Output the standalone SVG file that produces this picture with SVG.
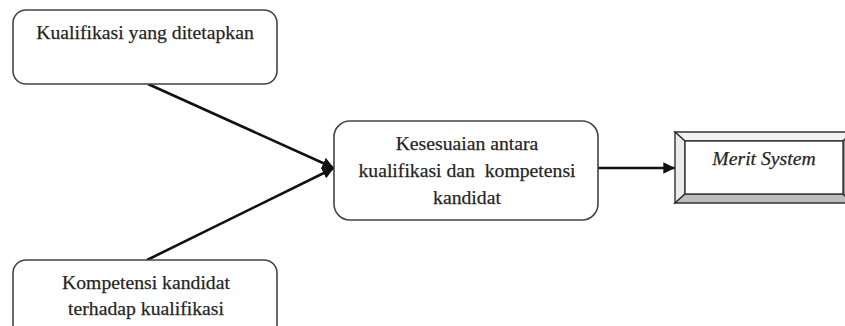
<svg xmlns="http://www.w3.org/2000/svg" width="845" height="326" viewBox="0 0 845 326">
<style>
.box{fill:#fff;stroke:#444;stroke-width:1.6}
.t{font-family:"Liberation Serif","Times New Roman",serif;font-size:19.7px;fill:#222;stroke:#333;stroke-width:0.25;text-anchor:middle}
.conn{stroke:#111;stroke-width:2.6;fill:none}
</style>
<defs>
<marker id="ah" viewBox="0 0 10 10" refX="10" refY="5" markerWidth="4.5" markerHeight="4.5" orient="auto" markerUnits="strokeWidth">
<path d="M0,0 L10,5 L0,10 Z" fill="#111"/>
</marker>
</defs>
<rect width="845" height="326" fill="#fff"/>
<g id="connectors">
<line class="conn" x1="148" y1="84" x2="334" y2="168" marker-end="url(#ah)"/>
<line class="conn" x1="147" y1="260" x2="334" y2="168" marker-end="url(#ah)"/>
<line class="conn" x1="598" y1="168" x2="675" y2="168" stroke-width="2" marker-end="url(#ah)"/>
</g>
<g id="node-kualifikasi">
<rect class="box" x="13" y="10" width="264" height="74" rx="13"/>
<text class="t" x="145" y="39">Kualifikasi yang ditetapkan</text>
</g>
<g id="node-kompetensi">
<rect class="box" x="13" y="260" width="264" height="80" rx="13"/>
<text class="t" x="146" y="289">Kompetensi kandidat</text>
<text class="t" x="146" y="315">terhadap kualifikasi</text>
</g>
<g id="node-kesesuaian">
<rect class="box" x="334" y="121" width="264" height="99" rx="16"/>
<text class="t" x="467" y="150">Kesesuaian antara</text>
<text class="t" x="467" y="177" xml:space="preserve">kualifikasi dan  kompetensi</text>
<text class="t" x="467" y="204">kandidat</text>
</g>
<g id="node-merit">
<polygon points="675,132 853,132 843,141 685,141" fill="#f2f2f2" stroke="#333" stroke-width="1.4"/>
<polygon points="675,132 685,141 685,194 675,203" fill="#ececec" stroke="#333" stroke-width="1.4"/>
<polygon points="675,203 685,194 843,194 853,203" fill="#bdbdbd" stroke="#333" stroke-width="1.4"/>
<polygon points="853,132 843,141 843,194 853,203" fill="#9a9a9a" stroke="#333" stroke-width="1.4"/>
<rect x="685" y="141" width="158" height="53" fill="#fff" stroke="#333" stroke-width="1.4"/>
<text class="t" x="764" y="165" font-style="italic">Merit System</text>
</g>
</svg>
